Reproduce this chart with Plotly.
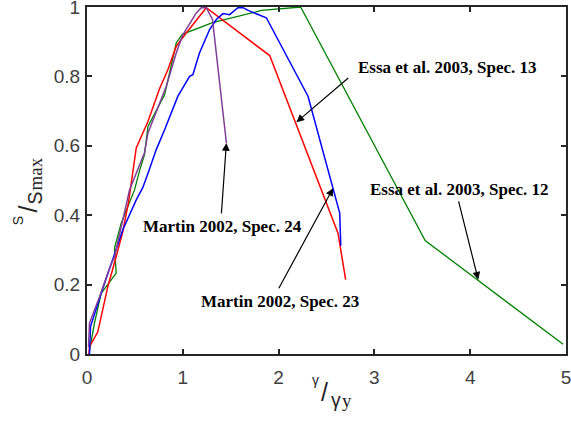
import plotly.graph_objects as go

# Essa et al. 2003, Spec. 12 (green)
essa12_x = [0.026, 0.078, 0.148, 0.305, 0.287, 0.357, 0.496, 0.55, 0.60, 0.636, 0.81, 0.86, 0.932, 0.995, 1.31, 1.82, 2.23, 3.53, 4.97]
essa12_y = [0.01, 0.089, 0.175, 0.233, 0.305, 0.377, 0.473, 0.53, 0.574, 0.656, 0.747, 0.805, 0.897, 0.921, 0.955, 0.99, 1.0, 0.327, 0.028]

# Essa et al. 2003, Spec. 13 (red)
essa13_x = [0.02, 0.026, 0.113, 0.217, 0.305, 0.374, 0.435, 0.514, 0.636, 0.758, 0.845, 0.932, 1.036, 1.245, 1.907, 2.62, 2.70]
essa13_y = [0.0, 0.021, 0.064, 0.194, 0.281, 0.353, 0.44, 0.594, 0.67, 0.765, 0.82, 0.887, 0.925, 0.998, 0.86, 0.348, 0.214]

# Martin 2002, Spec. 23 (blue)
martin23_x = [0.026, 0.037, 0.148, 0.305, 0.374, 0.514, 0.583, 0.636, 0.723, 0.81, 0.949, 1.0, 1.071, 1.105, 1.175, 1.28, 1.35, 1.419, 1.489, 1.576, 1.628, 1.698, 1.872, 2.307, 2.569, 2.638, 2.649]
martin23_y = [0.0, 0.079, 0.175, 0.30, 0.358, 0.444, 0.48, 0.52, 0.589, 0.646, 0.743, 0.767, 0.80, 0.805, 0.868, 0.935, 0.964, 0.981, 0.978, 0.998, 0.998, 0.988, 0.969, 0.743, 0.473, 0.406, 0.312]

# Martin 2002, Spec. 24 (purple)
martin24_x = [0.016, 0.026, 0.131, 0.235, 0.287, 0.444, 0.6, 0.636, 0.827, 0.932, 1.0, 1.141, 1.193, 1.245, 1.31, 1.455]
martin24_y = [0.02, 0.089, 0.165, 0.247, 0.28, 0.473, 0.58, 0.637, 0.771, 0.868, 0.92, 0.983, 0.998, 0.998, 0.964, 0.608]

x_ticks = [0, 1, 2, 3, 4, 5]
y_ticks = [0, 0.2, 0.4, 0.6, 0.8, 1]
y_tick_text = ["0", "0.2", "0.4", "0.6", "0.8", "1"]

# labels: (text, text_x, text_y, tail_x, tail_y, head_x, head_y)
labels = [
    ("Essa et al. 2003, Spec. 13", 3.762, 0.826, 2.743, 0.799, 2.186, 0.668),
    ("Essa et al. 2003, Spec. 12", 3.892, 0.473, 3.875, 0.444, 4.084, 0.214),
    ("Martin 2002, Spec. 24", 1.419, 0.367, 1.402, 0.401, 1.455, 0.608),
    ("Martin 2002, Spec. 23", 2.011, 0.151, 1.994, 0.185, 2.569, 0.478),
]

# axis title pieces: (text, paper_x, paper_y, size, family, angle)
SANS = "Liberation Sans"
SERIF = "Liberation Serif"
y_title_parts = [
    ("S", -0.1434, 0.3833, 14, SANS, -90),
    ("/", -0.1242, 0.4179, 25, SANS, -90),
    ("S", -0.1086, 0.4510, 19.5, SANS, -90),
    ("max", -0.1077, 0.5187, 19, SERIF, -90),
]
x_title_parts = [
    ("γ", 0.477, -0.0761, 14, SANS, 0),
    ("/", 0.4948, -0.1095, 25, SANS, 0),
    ("γ", 0.5198, -0.1337, 19.5, SANS, 0),
    ("y", 0.5428, -0.1354, 19, SERIF, 0),
]

fig = go.Figure()
fig.add_trace(go.Scatter(x=essa12_x, y=essa12_y, mode="lines", line=dict(color="#008000", width=1.3), name="Essa 12"))
fig.add_trace(go.Scatter(x=essa13_x, y=essa13_y, mode="lines", line=dict(color="#ff0000", width=1.5), name="Essa 13"))
fig.add_trace(go.Scatter(x=martin23_x, y=martin23_y, mode="lines", line=dict(color="#0000ff", width=1.5), name="Martin 23"))
fig.add_trace(go.Scatter(x=martin24_x, y=martin24_y, mode="lines", line=dict(color="#7f3f98", width=1.5), name="Martin 24"))

annotations = []
for text, tx, ty, ax, ay, hx, hy in labels:
    annotations.append(dict(x=tx, y=ty, xref="x", yref="y", text="<b>" + text + "</b>", showarrow=False,
                            xanchor="center", yanchor="middle",
                            font=dict(family=SERIF, size=17, color="black")))
    annotations.append(dict(x=hx, y=hy, xref="x", yref="y", ax=ax, ay=ay, axref="x", ayref="y", text="",
                            showarrow=True, arrowhead=2, arrowsize=1.3, arrowwidth=1.2, arrowcolor="black", standoff=0))

for text, px, py, size, fam, ang in y_title_parts + x_title_parts:
    annotations.append(dict(x=px, y=py, xref="paper", yref="paper", text=text, showarrow=False,
                            textangle=ang, xanchor="center", yanchor="middle",
                            font=dict(family=fam, size=size, color="#262626")))

axis_common = dict(showgrid=False, zeroline=False, showline=True, linecolor="#262626", linewidth=2,
                   mirror="ticks", ticks="inside", ticklen=5, tickwidth=2, tickcolor="#262626",
                   automargin=False, ticklabeloverflow="allow",
                   tickfont=dict(family=SANS, size=19, color="#404040"))

fig.update_layout(
    width=571, height=423,
    margin=dict(l=87, r=5, t=7, b=69),
    paper_bgcolor="white", plot_bgcolor="white",
    showlegend=False,
    xaxis=dict(range=[0, 5], tickvals=x_ticks, ticklabelstandoff=5, **axis_common),
    yaxis=dict(range=[0, 1], tickvals=y_ticks, ticktext=y_tick_text, ticklabelstandoff=1, **axis_common),
    annotations=annotations,
)

fig.write_html("out.html")
